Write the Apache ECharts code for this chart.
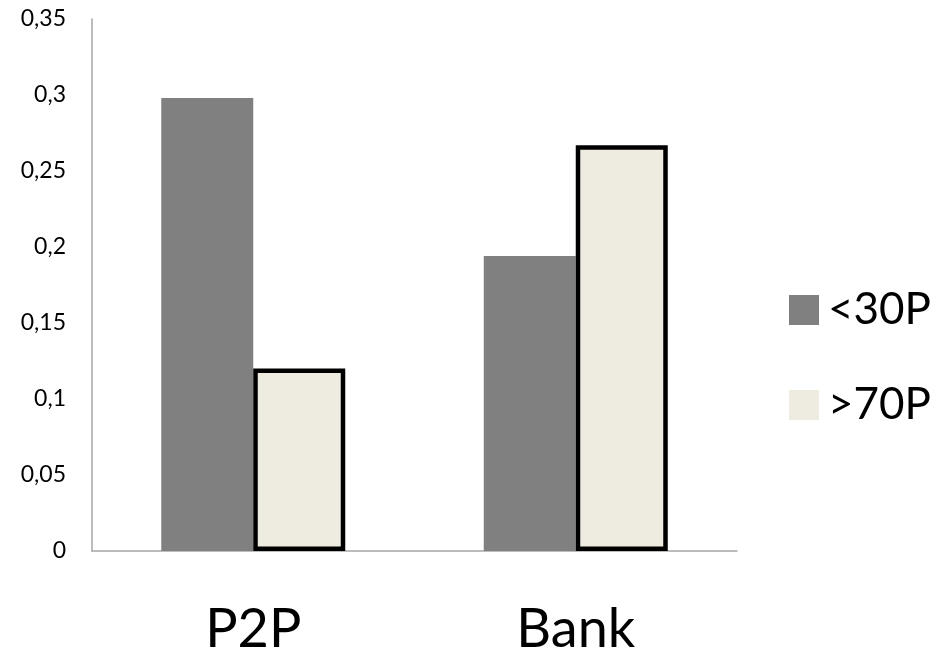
<!DOCTYPE html>
<html>
<head>
<meta charset="utf-8">
<script src="https://cdn.jsdelivr.net/npm/echarts@6/dist/echarts.min.js"></script>
<style>
  html, body { margin: 0; padding: 0; background: #fff; }
  #chart { width: 948px; height: 658px; }
</style>
</head>
<body>
<div id="chart"></div>
<script>
// Share of users by group, per lending channel
const categories = ['P2P', 'Bank'];
const seriesNames = ['<30P', '>70P'];
const under30 = [0.298, 0.194];
const over70 = [0.12, 0.267];
const yTicks = [0, 0.05, 0.1, 0.15, 0.2, 0.25, 0.3, 0.35];

const FONT = 'Lato, "Open Sans", sans-serif';
const chart = echarts.init(document.getElementById('chart'), null, { renderer: 'canvas' });

chart.setOption({
  animation: false,
  backgroundColor: '#ffffff',
  grid: { left: 92, right: 211, top: 19, bottom: 107, containLabel: false },
  legend: {
    orient: 'vertical',
    left: 784,
    top: 283,
    itemWidth: 30,
    itemHeight: 30,
    itemGap: 51,
    icon: 'rect',
    textStyle: { fontFamily: FONT, fontSize: 44, color: '#000', lineHeight: 30, padding: [0, 0, 0, 4] },
    data: [
      { name: seriesNames[0], itemStyle: { borderWidth: 0 } },
      { name: seriesNames[1], itemStyle: { borderWidth: 0 } }
    ]
  },
  xAxis: {
    type: 'category',
    data: categories,
    axisLine: { show: true, lineStyle: { color: '#a6a6a6', width: 1.5 } },
    axisTick: { show: false },
    axisLabel: { fontFamily: FONT, fontSize: 54, color: '#000', margin: 52 },
    splitLine: { show: false }
  },
  yAxis: {
    type: 'value',
    min: yTicks[0],
    max: yTicks[yTicks.length - 1],
    interval: 0.05,
    axisLine: { show: true, lineStyle: { color: '#a6a6a6', width: 1.5 } },
    axisTick: { show: false },
    splitLine: { show: false },
    axisLabel: {
      fontFamily: FONT,
      fontSize: 23,
      color: '#000',
      margin: 26,
      formatter: v => {
        const t = yTicks.find(x => Math.abs(x - v) < 1e-9);
        return String(t !== undefined ? t : v).replace('.', ',');
      }
    }
  },
  series: [
    {
      name: seriesNames[0],
      type: 'bar',
      data: under30,
      barWidth: 92,
      barGap: '0%',
      itemStyle: { color: '#808080' }
    },
    {
      name: seriesNames[1],
      type: 'bar',
      data: over70,
      barWidth: 92,
      barGap: '0%',
      itemStyle: { color: '#eeebe0', borderColor: '#000', borderWidth: 4.5 }
    }
  ]
});
</script>
</body>
</html>
